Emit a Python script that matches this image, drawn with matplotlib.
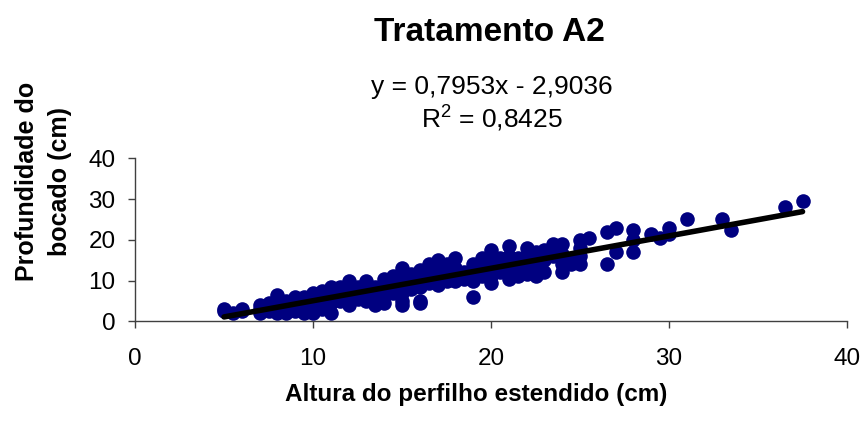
import matplotlib
matplotlib.use("Agg")
from matplotlib import pyplot as plt

plt.rcParams['font.family'] = ['Liberation Sans', 'DejaVu Sans']
plt.rcParams['mathtext.default'] = 'regular'

# data (altura, profundidade), grouped by x
altura = [5, 5, 5.5, 6, 6,
          7, 7, 7, 7.5, 7.5, 7.5,
          8, 8, 8, 8, 8.5, 8.5, 8.5, 8.5,
          9, 9, 9, 9, 9.5, 9.5, 9.5, 9.5,
          10, 10, 10, 10, 10, 10.5, 10.5, 10.5, 10.5,
          11, 11, 11, 11, 11, 11.5, 11.5, 11.5, 11.5,
          12, 12, 12, 12, 12, 12.5, 12.5, 12.5,
          13, 13, 13, 13, 13, 13.5, 13.5, 13.5,
          14, 14, 14, 14, 14, 14.5, 14.5, 14.5,
          15, 15, 15, 15, 15, 15, 15, 15.5, 15.5, 15.5,
          16, 16, 16, 16, 16, 16.5, 16.5, 16.5,
          17, 17, 17, 17, 17.5, 17.5, 17.5,
          18, 18, 18, 18, 18.5, 18.5,
          19, 19, 19, 19, 19.5, 19.5, 19.5,
          20, 20, 20, 20, 20, 20.5, 20.5, 20.5,
          21, 21, 21, 21, 21, 21.5, 21.5, 21.5,
          22, 22, 22, 22, 22.5, 22.5, 22.5,
          23, 23, 23, 23.5, 23.5,
          24, 24, 24, 24, 24.5, 24.5,
          25, 25, 25, 25, 25.5,
          26.5, 26.5, 27, 27,
          28, 28, 28, 29, 29.5, 30, 30,
          31, 33, 33.5, 36.5, 37.5]
profundidade = [3, 2.5, 2, 3, 2.5,
                4, 2, 3, 4.5, 3, 2.5,
                6.5, 5, 3, 2, 5, 4, 3, 2,
                6, 5, 4, 2.5, 6, 4.5, 3, 2,
                7, 6, 5, 4, 2, 7.5, 6, 5, 3,
                8.5, 7, 6, 4.5, 2, 8.5, 7, 6, 5,
                10, 9, 7.5, 6, 4, 8.5, 7, 5.5,
                10, 9, 8, 7, 5, 8.5, 6, 4,
                10.5, 9, 7.5, 6, 4.5, 11, 9, 7,
                13, 11, 10, 8.5, 7, 5, 4, 11.5, 9.5, 8,
                12.5, 10, 8.5, 5, 4.5, 14, 11, 9.5,
                15, 13, 11, 9, 14, 12, 10,
                15.5, 13, 11, 10, 12, 10.5,
                14, 12, 10, 6, 15.5, 13, 11,
                17.5, 15, 13, 11, 9.5, 15.5, 13, 12,
                18.5, 16, 14, 12, 10.5, 15.5, 13, 11,
                18, 16, 14, 11.5, 17, 14, 11,
                17.5, 15, 12, 19, 16,
                19, 16.5, 14, 12, 15, 14,
                20, 18, 16, 14, 20.5,
                22, 14, 23, 17,
                22.5, 20, 17, 21.5, 20.5, 23, 21.5,
                25, 25, 22.5, 28, 29.5]

# trendline from the equation shown on the chart
slope = 0.7953
intercept = -2.9036
r2 = 0.8425
x_range = [min(altura), max(altura)]

fig = plt.figure(figsize=(8.66, 4.21), dpi=100)
ax = fig.add_axes([0.1559, 0.2368, 0.8222, 0.3872])

ax.plot(altura, profundidade, 'o', color='#000080', markersize=10.5,
        markeredgewidth=0, clip_on=False, zorder=2)
ax.plot(x_range, [slope * v + intercept for v in x_range], color='black',
        linewidth=4, solid_capstyle='round', zorder=3)

ax.set_xlim(0, 40)
ax.set_ylim(0, 40)
ax.set_xticks([0, 10, 20, 30, 40])
ax.set_yticks([0, 10, 20, 30, 40])
ax.tick_params(axis='both', direction='out', length=5, width=1,
               color='#404040', labelsize=17.5)
ax.tick_params(axis='x', pad=14)
ax.tick_params(axis='y', pad=9)
for side in ['top', 'right']:
    ax.spines[side].set_visible(False)
for side in ['left', 'bottom']:
    ax.spines[side].set_color('#404040')
    ax.spines[side].set_linewidth(1)

fig.text(0.565, 0.922, 'Tratamento A2', ha='center', va='center',
         fontsize=24, fontweight='bold')
eq = 'y = ' + ('%.4f' % slope).replace('.', ',') + 'x - ' + \
     ('%.4f' % abs(intercept)).replace('.', ',')
fig.text(0.568, 0.793, eq, ha='center', va='center', fontsize=19)
fig.text(0.568, 0.718, 'R$^{2}$ = ' + ('%.4f' % r2).replace('.', ','),
         ha='center', va='center', fontsize=19)

fig.text(0.55, 0.062, 'Altura do perfilho estendido (cm)', ha='center',
         va='center', fontsize=17.5, fontweight='bold')
fig.text(0.05, 0.568, 'Profundidade do\nbocado (cm)', ha='center',
         va='center', rotation=90, fontsize=18, fontweight='bold',
         linespacing=1.5)

fig.savefig('out.png', dpi=100)
